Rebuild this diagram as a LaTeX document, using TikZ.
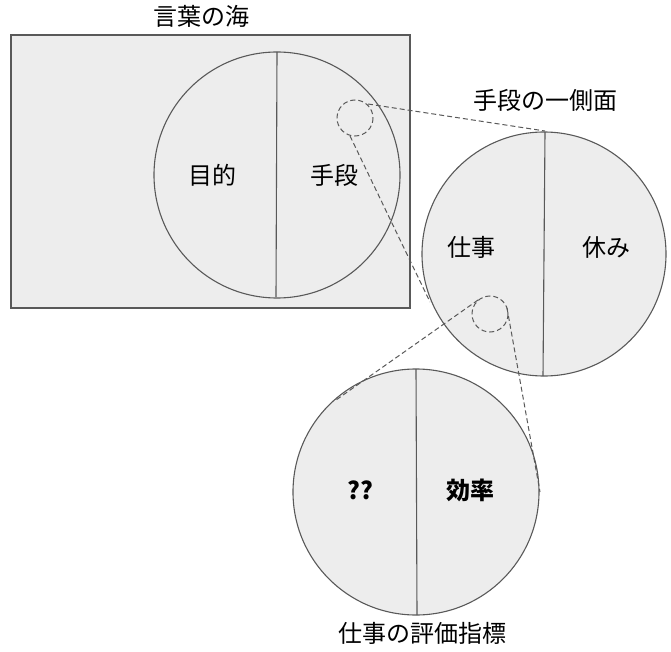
\documentclass[tikz,border=0pt]{standalone}
\usepackage{fontspec}
\setmainfont{Noto Sans CJK JP}
\begin{document}
\begin{tikzpicture}[x=1pt,y=-1pt,
  shp/.style={draw=black!65,fill=black!7,line width=1.1pt},
  sep/.style={draw=black!65,line width=1.1pt},
  dsh/.style={draw=black!65,dash pattern=on 5pt off 3pt,line width=1pt},
  lbl/.style={font=\fontsize{24}{24}\selectfont},
  blbl/.style={font=\fontsize{24}{24}\selectfont\bfseries}]
\useasboundingbox (0,0) rectangle (671,652);
\node[lbl] (t1) at (201,16) {言葉の海};
\draw[shp] (11,35) rectangle (410,308);
\draw[shp] (277,175) circle (123);
\draw[sep] (277,52) -- (276,297);
\node[lbl] (a1) at (212,175) {目的};
\node[lbl] (a2) at (334,175) {手段};
\node[lbl] (t2) at (545,100) {手段の一側面};
\draw[shp] (544,254) circle (122);
\draw[sep] (545,132) -- (543,376);
\node[lbl] (b1) at (471,247) {仕事};
\node[lbl] (b2) at (606,247) {休み};
\draw[shp] (416,492) circle (123);
\draw[sep] (416,369) -- (417,615);
\node[blbl] (c1) at (360,490) {??};
\node[blbl] (c2) at (470,490) {効率};
\node[lbl] (t3) at (422,633) {仕事の評価指標};
\draw[dsh] (355,118) circle (18);
\draw[dsh] (490,314) circle (18);
\coordinate (p1) at (368,104); \coordinate (q1) at (545,131);
\coordinate (p2) at (350,136); \coordinate (q2) at (430,302);
\coordinate (p3) at (478,300); \coordinate (q3) at (336,400);
\coordinate (p4) at (507,308); \coordinate (q4) at (540,492);
\draw[dsh] (p1) -- (q1);
\draw[dsh] (p2) -- (q2);
\draw[dsh] (p3) -- (q3);
\draw[dsh] (p4) -- (q4);
\end{tikzpicture}
\end{document}
